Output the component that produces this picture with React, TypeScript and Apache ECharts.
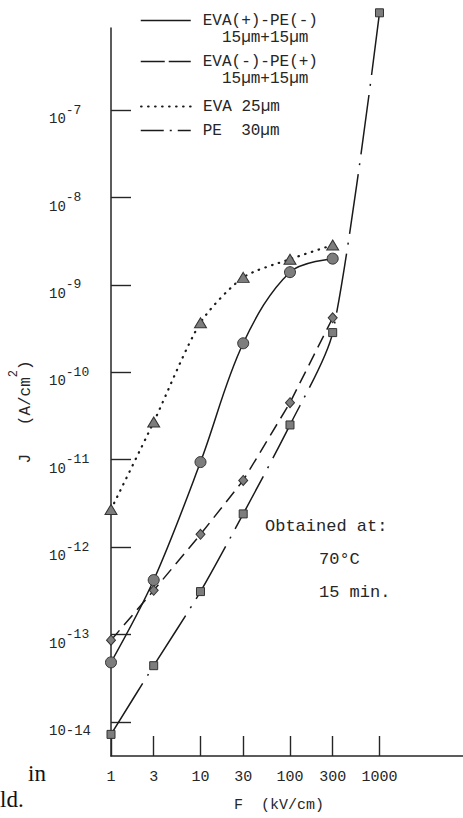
import React, { useEffect, useRef } from "react";
import * as echarts from "echarts";

// Field strength F (kV/cm): axis ticks and their labels
const fieldTicks = [1, 3, 10, 30, 100, 300, 1000];
const fieldTickLabels = ["1", "3", "10", "30", "100", "300", "1000"];
// Current density J (A/cm^2): decade exponents on the vertical axis
const currentExponents = [-14, -13, -12, -11, -10, -9, -8, -7];

// Measured points, J in A/cm^2
const fieldLaminate = [1, 3, 10, 30, 100, 300];
const evaPlusPeMinus = [4.8e-14, 4.2e-13, 9.4e-12, 2.15e-10, 1.4e-9, 2.0e-9];
const evaMinusPePlus = [8.6e-14, 3.2e-13, 1.4e-12, 5.8e-12, 4.5e-11, 4.2e-10];
const eva25 = [2.7e-12, 2.7e-11, 3.7e-10, 1.22e-9, 1.97e-9, 2.86e-9];
const fieldPe = [1, 3, 10, 30, 100, 300, 1000];
const pe30 = [7.2e-15, 4.4e-14, 3.1e-13, 2.4e-12, 2.5e-11, 2.85e-10, 1.3e-6];

const seriesNames = ["EVA(+)-PE(-)", "EVA(-)-PE(+)", "EVA 25µm", "PE 30µm"];

// Axis extents in decades (log10)
const xMin = 0;
const xMax = 3.933;
const yMin = -14.39;
const yMax = -6.06;

const MONO = "'Liberation Mono', 'DejaVu Sans Mono', monospace";
const INK = "#262626";

const toLog = (xs: number[], ys: number[]) =>
  xs.map((x, i) => [Math.log10(x), Math.log10(ys[i])]);

const fieldLabel = (v: number) => {
  const i = fieldTicks.findIndex((t) => Math.abs(Math.log10(t) - v) < 1e-6);
  return i >= 0 ? fieldTickLabels[i] : "";
};

const legendRich = {
  h: { fontFamily: MONO, fontSize: 16, lineHeight: 17, color: INK },
  a: { fontFamily: MONO, fontSize: 16, lineHeight: 17, color: INK, padding: [0, 0, 0, 7] },
};

const makeLegend = (
  name: string,
  top: number,
  text: string,
  lineStyle: Record<string, unknown>
) => ({
  data: [name],
  orient: "vertical",
  left: 140,
  top,
  padding: 0,
  itemWidth: 50,
  itemHeight: 14,
  selectedMode: false,
  itemStyle: { color: "rgba(0,0,0,0)", borderColor: "rgba(0,0,0,0)", borderWidth: 0 },
  lineStyle,
  formatter: () => text,
  textStyle: { fontFamily: MONO, fontSize: 16, color: INK, rich: legendRich },
});

export default function App() {
  const ref = useRef<HTMLDivElement>(null);

  useEffect(() => {
    if (!ref.current) return;
    const chart = echarts.init(ref.current, null, { renderer: "svg" });

    const marker = { color: "#7d7d7d", borderColor: "#333", borderWidth: 1 };

    chart.setOption({
      animation: false,
      backgroundColor: "#fff",
      grid: { left: 109, right: 0, top: 28, bottom: 61 },
      legend: [
        makeLegend(
          seriesNames[0],
          -4.5,
          "{h| }\n{a|EVA(+)-PE(-)}\n{a|\u00a0\u00a015µm+15µm}",
          { width: 1.5, type: "solid" }
        ),
        makeLegend(
          seriesNames[1],
          36.5,
          "{h| }\n{a|EVA(-)-PE(+)}\n{a|\u00a0\u00a015µm+15µm}",
          { width: 1.5, type: [24, 4] }
        ),
        makeLegend(seriesNames[2], 98.5, "{a|EVA 25µm}", {
          width: 2.2,
          type: [0.5, 6.5],
          cap: "round",
        }),
        makeLegend(seriesNames[3], 122.5, "{a|PE\u00a0\u00a030µm}", {
          width: 1.5,
          type: [23, 6, 2, 6],
        }),
      ],
      xAxis: {
        type: "value",
        min: xMin,
        max: xMax,
        axisLine: { show: true, onZero: false, lineStyle: { color: INK, width: 1.5 } },
        axisTick: {
          show: true,
          inside: true,
          length: 20,
          customValues: fieldTicks.map((t) => Math.log10(t)),
          lineStyle: { color: INK, width: 1.4 },
        },
        axisLabel: {
          customValues: fieldTicks.map((t) => Math.log10(t)),
          margin: 14,
          fontFamily: MONO,
          fontSize: 15,
          color: INK,
          formatter: (v: number) => fieldLabel(v),
        },
        splitLine: { show: false },
        name: "F\u00a0\u00a0(kV/cm)",
        nameLocation: "middle",
        nameGap: 42,
        nameTextStyle: {
          fontFamily: MONO,
          fontSize: 15,
          color: INK,
          padding: [0, 16, 0, 0],
        },
      },
      yAxis: {
        type: "value",
        min: yMin,
        max: yMax,
        axisLine: { show: true, onZero: false, lineStyle: { color: INK, width: 1.5 } },
        axisTick: {
          show: true,
          inside: true,
          length: 20,
          customValues: currentExponents,
          lineStyle: { color: INK, width: 1.4 },
        },
        axisLabel: {
          customValues: currentExponents,
          align: "left",
          margin: 62,
          formatter: (v: number) => {
            const e = Math.round(v);
            return e === -14 ? `{f|10${e}}` : `{b|10}{s|${e}}`;
          },
          rich: {
            b: { fontFamily: MONO, fontSize: 14, lineHeight: 32, verticalAlign: "bottom", color: INK },
            f: { fontFamily: MONO, fontSize: 14, lineHeight: 32, verticalAlign: "bottom", color: INK },
            s: { fontFamily: MONO, fontSize: 13, verticalAlign: "middle", color: INK },
          },
        },
        splitLine: { show: false },
        name: "{n|J\u00a0\u00a0\u00a0(A/cm}{s|2}{n|)}",
        nameLocation: "middle",
        nameRotate: 90,
        nameGap: 77,
        nameTextStyle: {
          padding: [0, 40, 0, 0],
          rich: {
            n: { fontFamily: MONO, fontSize: 16, lineHeight: 26, verticalAlign: "bottom", color: INK },
            s: { fontFamily: MONO, fontSize: 12, verticalAlign: "top", color: INK },
          },
        },
      },
      graphic: [
        {
          type: "text",
          left: 265,
          top: 518,
          style: { text: "Obtained at:", font: `17px ${MONO}`, fill: INK },
        },
        {
          type: "text",
          left: 319,
          top: 551,
          style: { text: "70°C", font: `17px ${MONO}`, fill: INK },
        },
        {
          type: "text",
          left: 319,
          top: 584,
          style: { text: "15 min.", font: `17px ${MONO}`, fill: INK },
        },
        {
          type: "text",
          left: 28,
          top: 762,
          style: { text: "in", font: "23px 'Liberation Serif', serif", fill: "#111" },
        },
        {
          type: "text",
          left: 0,
          top: 788,
          style: { text: "ld.", font: "23px 'Liberation Serif', serif", fill: "#111" },
        },
      ],
      series: [
        {
          name: seriesNames[0],
          type: "line",
          data: toLog(fieldLaminate, evaPlusPeMinus),
          smooth: 0.35,
          clip: false,
          symbol: "circle",
          symbolSize: 11,
          itemStyle: marker,
          lineStyle: { color: "#1a1a1a", width: 1.5, type: "solid" },
          z: 4,
        },
        {
          name: seriesNames[1],
          type: "line",
          data: toLog(fieldLaminate, evaMinusPePlus),
          clip: false,
          symbol: "diamond",
          symbolSize: [9, 10],
          itemStyle: marker,
          lineStyle: { color: "#1a1a1a", width: 1.5, type: [13, 7] },
          z: 3,
        },
        {
          name: seriesNames[2],
          type: "line",
          data: toLog(fieldLaminate, eva25),
          smooth: 0.25,
          clip: false,
          symbol: "triangle",
          symbolSize: [12, 10],
          itemStyle: marker,
          lineStyle: { color: "#1a1a1a", width: 2.2, type: [0.5, 6.5], cap: "round" },
          z: 3,
        },
        {
          name: seriesNames[3],
          type: "line",
          data: toLog(fieldPe, pe30),
          smooth: 0.25,
          clip: false,
          symbol: "rect",
          symbolSize: 8,
          itemStyle: marker,
          lineStyle: { color: "#1a1a1a", width: 1.5, type: [60, 9, 2, 9] },
          z: 3,
        },
      ],
    });

    return () => chart.dispose();
  }, []);

  return (
    <div
      ref={ref}
      style={{ position: "fixed", left: 0, top: 0, width: 463, height: 818 }}
    />
  );
}
